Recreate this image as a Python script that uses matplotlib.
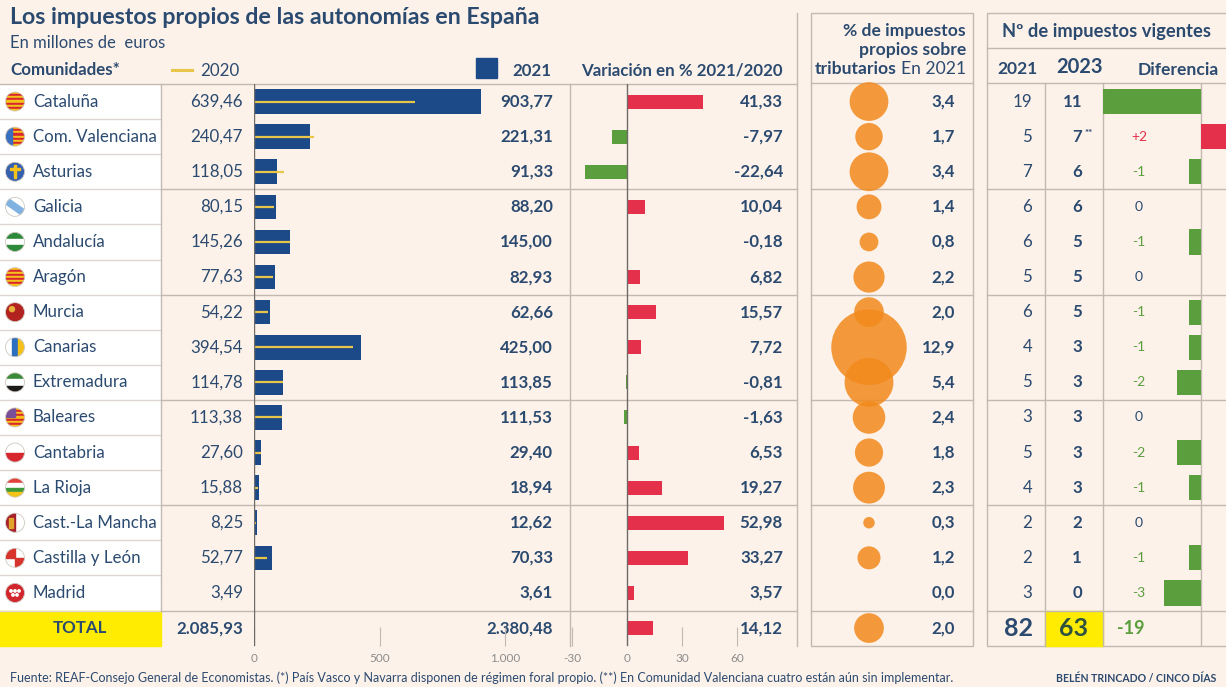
import matplotlib
matplotlib.use("Agg")
import matplotlib.pyplot as plt
from matplotlib.patches import Rectangle, Circle
import numpy as np

plt.rcParams["font.family"] = ["Lato", "DejaVu Sans"]

# ---- data ----
regions = ["Cataluña", "Com. Valenciana", "Asturias", "Galicia", "Andalucía", "Aragón",
           "Murcia", "Canarias", "Extremadura", "Baleares", "Cantabria", "La Rioja",
           "Cast.-La Mancha", "Castilla y León", "Madrid"]
rev_2020 = [639.46, 240.47, 118.05, 80.15, 145.26, 77.63, 54.22, 394.54, 114.78,
            113.38, 27.60, 15.88, 8.25, 52.77, 3.49]
rev_2021 = [903.77, 221.31, 91.33, 88.20, 145.00, 82.93, 62.66, 425.00, 113.85,
            111.53, 29.40, 18.94, 12.62, 70.33, 3.61]
variation = [41.33, -7.97, -22.64, 10.04, -0.18, 6.82, 15.57, 7.72, -0.81,
             -1.63, 6.53, 19.27, 52.98, 33.27, 3.57]
pct_tax = [3.4, 1.7, 3.4, 1.4, 0.8, 2.2, 2.0, 12.9, 5.4, 2.4, 1.8, 2.3, 0.3, 1.2, 0.0]
n_2021 = [19, 5, 7, 6, 6, 5, 6, 4, 5, 3, 5, 4, 2, 2, 3]
n_2023 = [11, 7, 6, 6, 5, 5, 5, 3, 3, 3, 3, 3, 2, 1, 0]
diff = [b - a for a, b in zip(n_2021, n_2023)]

total_2020 = 2085.93
total_2021 = 2380.48
total_var = 14.12
total_pct = 2.0
total_n2021 = 82
total_n2023 = 63
total_diff = -19

bar_ticks = [0, 500, 1000]
bar_ticklabels = ["0", "500", "1.000"]
var_ticks = [-30, 0, 30, 60]
var_ticklabels = ["-30", "0", "30", "60"]

# flag colours: horizontal stripes top->bottom (rough icons)
flags = {
    "Cataluña": ["#f4c21b", "#d8262f"] * 4 + ["#f4c21b"],
    "Com. Valenciana": ["#f4c21b", "#d8262f"] * 4 + ["#f4c21b"],
    "Asturias": ["#3560b0"],
    "Galicia": ["#ffffff"],
    "Andalucía": ["#2f8a3c", "#ffffff", "#2f8a3c"],
    "Aragón": ["#f4c21b", "#d8262f"] * 4 + ["#f4c21b"],
    "Murcia": ["#b2231f"],
    "Canarias": ["#ffffff"],
    "Extremadura": ["#3a8a3a", "#ffffff", "#1a1a1a"],
    "Baleares": ["#f4c21b", "#d8262f"] * 4 + ["#f4c21b"],
    "Cantabria": ["#ffffff", "#d8262f"],
    "La Rioja": ["#e0413b", "#ffffff", "#3f9a3a", "#f2c418"],
    "Cast.-La Mancha": ["#ffffff"],
    "Castilla y León": ["#ffffff"],
    "Madrid": ["#d2262e"],
}

# ---- styling ----
W, H = 1226, 687
ROW_TOP, ROW_H = 84, 35.1
NROWS = 16
ROW_BOT = ROW_TOP + NROWS * ROW_H
BG = "#fdf2e9"
NAVY = "#2b4a70"
BAR_BLUE = "#1c4987"
YELLOW_LINE = "#e8c64a"
RED = "#e4304b"
GREEN = "#5b9e3e"
ORANGE = "#f28a1c"
LINE = "#c2b9b0"
LIGHT = "#dcd7d2"
FS = 12.2   # row text size
HS = 12.2   # header text size


def fmt(v, dec=2):
    s = f"{v:,.{dec}f}"
    return s.replace(",", "X").replace(".", ",").replace("X", ".")


def row_y(i):
    return ROW_TOP + ROW_H * (i + 0.5)


fig = plt.figure(figsize=(W / 100, H / 100), dpi=100, facecolor=BG)
bg = fig.add_axes([0, 0, 1, 1])
bg.set_xlim(0, W)
bg.set_ylim(H, 0)
bg.axis("off")


def panel_axes(x0, x1):
    ax = fig.add_axes([x0 / W, 1 - ROW_BOT / H, (x1 - x0) / W, (ROW_BOT - ROW_TOP) / H])
    ax.set_ylim(NROWS - 0.5, -0.5)
    ax.patch.set_alpha(0)
    for s in ax.spines.values():
        s.set_visible(False)
    ax.set_yticks([])
    return ax


# ---- table background and lines ----
bg.add_patch(Rectangle((0, ROW_TOP), 161, ROW_H * 15, color="white", zorder=0))
bg.add_patch(Rectangle((0, ROW_TOP + ROW_H * 15), 161, ROW_H, color="#ffec00", zorder=0))
bg.plot([0, 797], [ROW_TOP, ROW_TOP], color=LINE, lw=1)
for i in range(1, 16):
    y = ROW_TOP + i * ROW_H
    bg.plot([0, 161], [y, y], color=LIGHT, lw=1)
    if i % 3 == 0:
        bg.plot([161, 797], [y, y], color=LINE, lw=1)
        bg.plot([811, 973], [y, y], color=LINE, lw=1)
        bg.plot([987, 1226], [y, y], color=LINE, lw=1)
bg.plot([161, 161], [ROW_TOP, ROW_TOP + 15 * ROW_H], color=LINE, lw=1)
bg.plot([570, 570], [ROW_TOP, ROW_BOT], color=LINE, lw=1)
bg.plot([797, 797], [13, ROW_BOT], color=LINE, lw=1)
bg.add_patch(Rectangle((811, 13), 162, ROW_BOT - 13, fill=False, ec=LINE, lw=1))
bg.plot([811, 973], [83, 83], color=LINE, lw=1)
bg.add_patch(Rectangle((987, 13), 250, ROW_BOT - 13, fill=False, ec=LINE, lw=1))
bg.plot([987, 1226], [48, 48], color=LINE, lw=1)
bg.plot([987, 1226], [83, 83], color=LINE, lw=1)
for x in (1045, 1103):
    bg.plot([x, x], [83, ROW_BOT], color=LINE, lw=1)
bg.add_patch(Rectangle((1045, ROW_TOP + 15 * ROW_H), 58, ROW_H, color="#ffec00", zorder=1))

# ---- titles / headers ----
bg.text(10, 17, "Los impuestos propios de las autonomías en España", fontsize=16.7,
        fontweight="bold", color=NAVY, va="center")
bg.text(10, 43, "En millones de  euros", fontsize=12, color=NAVY, va="center")
bg.text(10, 70, "Comunidades*", fontsize=HS, fontweight="bold", color=NAVY, va="center")
bg.plot([172, 192], [70, 70], color=YELLOW_LINE, lw=2.2)
bg.text(200, 71, "2020", fontsize=HS, color=NAVY, va="center")
bg.add_patch(Rectangle((476, 58), 21, 20, color=BAR_BLUE))
bg.text(512, 71, "2021", fontsize=HS, fontweight="bold", color=NAVY, va="center")
bg.text(783, 70, "Variación en % 2021/2020", fontsize=HS, fontweight="bold",
        color=NAVY, va="center", ha="right")

P2 = 12.6
bg.text(966, 31, "% de impuestos", fontsize=P2, fontweight="bold", color=NAVY,
        va="center", ha="right")
bg.text(966, 50, "propios sobre", fontsize=P2, fontweight="bold", color=NAVY,
        va="center", ha="right")
t_en = bg.text(966, 69, "En 2021", fontsize=P2, color=NAVY, va="center", ha="right")
fig.canvas.draw()
ext = t_en.get_window_extent()
x_left = bg.transData.inverted().transform((ext.x0, ext.y0))[0]
bg.text(x_left - 4, 69, "tributarios", fontsize=P2, fontweight="bold", color=NAVY,
        va="center", ha="right")

bg.text(1106, 31, "Nº de impuestos vigentes", fontsize=13.2, fontweight="bold",
        color=NAVY, va="center", ha="center")
bg.text(1017, 69, "2021", fontsize=P2, fontweight="bold", color=NAVY, va="center", ha="center")
bg.text(1080, 67, "2023", fontsize=14.5, fontweight="bold", color=NAVY, va="center", ha="center")
bg.text(1178, 70, "Diferencia", fontsize=P2, fontweight="bold", color=NAVY,
        va="center", ha="center")


# ---- flags ----
def draw_flag(name, cx, cy, r=9.5):
    clip = Circle((cx, cy), r, transform=bg.transData)
    stripes = flags[name]
    h = 2 * r / len(stripes)
    patches = []
    for k, c in enumerate(stripes):
        patches.append(Rectangle((cx - r, cy - r + k * h), 2 * r, h, color=c))
    if name == "Com. Valenciana":
        patches.append(Rectangle((cx - r, cy - r), r * 0.7, 2 * r, color="#3a6fc0"))
    if name == "Baleares":
        patches.append(Rectangle((cx - r, cy - r), r, r, color="#7a4f9a"))
    if name == "Asturias":
        patches.append(Rectangle((cx - 1, cy - r * 0.7), 2, r * 1.4, color="#f4c21b"))
        patches.append(Rectangle((cx - r * 0.5, cy - r * 0.35), r, 2, color="#f4c21b"))
    if name == "Galicia":
        patches.append(Rectangle((cx - r * 1.5, cy - 3), r * 3, 6, color="#7fb2e0",
                                 angle=35, rotation_point="center"))
    if name == "Canarias":
        patches.append(Rectangle((cx - r / 3, cy - r), 2 * r / 3, 2 * r, color="#2d6fc0"))
        patches.append(Rectangle((cx + r / 3, cy - r), 2 * r / 3, 2 * r, color="#f4c21b"))
    if name == "Cast.-La Mancha":
        patches.append(Rectangle((cx - r, cy - r), r, 2 * r, color="#a4202a"))
        patches.append(Rectangle((cx - r * 0.6, cy - r * 0.5), r * 0.4, r, color="#e0a52a"))
    if name == "Castilla y León":
        patches.append(Rectangle((cx - r, cy - r), r, r, color="#d8342e"))
        patches.append(Rectangle((cx, cy), r, r, color="#d8342e"))
    if name == "Murcia":
        patches.append(Circle((cx - 3, cy - 3), 2.5, color="#e8b03a"))
    if name == "Madrid":
        for dx, dy in [(-4, -2), (0, -2), (4, -2), (-2, 2), (2, 2)]:
            patches.append(Circle((cx + dx, cy + dy), 1.2, color="white"))
    for p in patches:
        bg.add_patch(p)
        p.set_clip_path(clip)
    bg.add_patch(Circle((cx, cy), r, fill=False, ec="#d0c8c0", lw=0.6))


# ---- row texts ----
for i, name in enumerate(regions):
    y = row_y(i)
    draw_flag(name, 15, y)
    bg.text(33, y, name, fontsize=FS, color=NAVY, va="center")
    bg.text(243, y, fmt(rev_2020[i]), fontsize=FS, color=NAVY, va="center", ha="right")
    bg.text(553, y, fmt(rev_2021[i]), fontsize=FS, fontweight="bold", color=NAVY,
            va="center", ha="right")
    bg.text(783, y, fmt(variation[i]), fontsize=FS, fontweight="bold", color=NAVY,
            va="center", ha="right")
    bg.text(955, y, fmt(pct_tax[i], 1), fontsize=FS, fontweight="bold", color=NAVY,
            va="center", ha="right")
    bg.text(1032, y, str(n_2021[i]), fontsize=FS, color=NAVY, va="center", ha="right")
    bg.text(1082, y, str(n_2023[i]), fontsize=FS, fontweight="bold", color=NAVY,
            va="center", ha="right")
    if name == "Com. Valenciana":
        bg.text(1085, y - 3, "**", fontsize=7, fontweight="bold", color=NAVY, va="center")
    d = diff[i]
    dcol = GREEN if d < 0 else (RED if d > 0 else NAVY)
    dtxt = f"+{d}" if d > 0 else str(d)
    bg.text(1139, y, dtxt, fontsize=10, color=dcol, va="center", ha="center")

yt = row_y(15)
bg.text(80, yt, "TOTAL", fontsize=FS, fontweight="bold", color=NAVY, va="center", ha="center")
bg.text(243, yt, fmt(total_2020), fontsize=FS, fontweight="bold", color=NAVY,
        va="center", ha="right")
bg.text(553, yt, fmt(total_2021), fontsize=FS, fontweight="bold", color=NAVY,
        va="center", ha="right")
bg.text(783, yt, fmt(total_var), fontsize=FS, fontweight="bold", color=NAVY,
        va="center", ha="right")
bg.text(955, yt, fmt(total_pct, 1), fontsize=FS, fontweight="bold", color=NAVY,
        va="center", ha="right")
bg.text(1033, yt, str(total_n2021), fontsize=18, fontweight="bold", color=NAVY,
        va="center", ha="right", zorder=3)
bg.text(1074, yt, str(total_n2023), fontsize=18, fontweight="bold", color="#2f5240",
        va="center", ha="center", zorder=3)
bg.text(1117, yt, str(total_diff), fontsize=13, fontweight="bold", color=GREEN, va="center")

# ---- revenue bars 2020/2021 ----
rows = np.arange(len(regions))
ax1 = panel_axes(254, 505)
ax1.set_xlim(0, 1000)
ax1.barh(rows, rev_2021, height=0.7, color=BAR_BLUE, clip_on=False, zorder=2)
ax1.hlines(rows, 0, rev_2020, color=YELLOW_LINE, lw=1.6, zorder=3, clip_on=False)
ax1.axvline(0, color="#6d6a68", lw=1, zorder=4)
ax1.set_xticks(bar_ticks)
ax1.set_xticklabels(bar_ticklabels)

# ---- variation bars ----
var_all = variation + [total_var]
rows_all = np.arange(len(var_all))
ax2 = panel_axes(572, 737)
ax2.set_xlim(-30, 60)
ax2.barh(rows_all, var_all, height=0.4,
         color=[RED if v >= 0 else GREEN for v in var_all], clip_on=False, zorder=2)
ax2.axvline(0, color="#6d6a68", lw=1, zorder=4)
ax2.set_xticks(var_ticks)
ax2.set_xticklabels(var_ticklabels)

for ax in (ax1, ax2):
    ax.tick_params(axis="x", direction="in", length=14, width=0.8, color=LINE,
                   labelsize=8.5, labelcolor="#8c8c8c", pad=5)

# ---- bubbles ----
pct_all = pct_tax + [total_pct]
ax3 = panel_axes(829, 909)
ax3.set_xlim(-1, 1)
ax3.set_xticks([])
ax3.scatter(np.zeros(len(pct_all)), rows_all, s=[229 * p for p in pct_all], color=ORANGE,
            alpha=0.85, edgecolors="none", clip_on=False, zorder=2)

# ---- difference bars ----
ax4 = panel_axes(1103, 1226)
ax4.set_xlim(-8, 2.04)
ax4.set_xticks([])
ax4.barh(rows, diff, height=0.72, color=[RED if d > 0 else GREEN for d in diff],
         clip_on=True, zorder=2)
ax4.axvline(0, color=LINE, lw=1, zorder=1)

# ---- footer ----
bg.text(10, 678, "Fuente: REAF-Consejo General de Economistas. (*) País Vasco y Navarra disponen "
        "de régimen foral propio. (**) En Comunidad Valenciana cuatro están aún sin implementar.",
        fontsize=9, color=NAVY, va="center")
bg.text(1216, 678, "BELÉN TRINCADO / CINCO DÍAS", fontsize=7.6, fontweight="bold", color=NAVY,
        va="center", ha="right")

fig.savefig("out.png", dpi=100, facecolor=BG)
